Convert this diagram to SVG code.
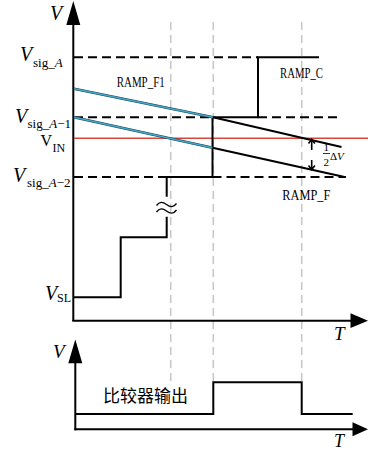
<svg xmlns="http://www.w3.org/2000/svg" width="368" height="452" viewBox="0 0 368 452">
<defs>
<style>
.ax{stroke:#000;stroke-width:2;fill:none}
.sig{stroke:#000;stroke-width:2;fill:none}
.dash{stroke:#000;stroke-width:2;fill:none;stroke-dasharray:9 5}
.grid{stroke:#c8c8c8;stroke-width:1.6;fill:none;stroke-dasharray:8 5}
.blueU{stroke:#1d3f50;stroke-width:2.6;fill:none}
.blue{stroke:#41aacb;stroke-width:1.6;fill:none}
.red{stroke:#d9473b;stroke-width:1.5;fill:none}
.ah{fill:#000}
.it{font-family:"Liberation Serif",serif;font-style:italic}
.rm{font-family:"Liberation Serif",serif}
.lbl{font-family:"Liberation Serif",serif;font-size:14.5px}
.cn{font-family:"Noto Sans CJK SC",sans-serif;font-size:17px}
</style>
</defs>
<g id="gridlines">
<line class="grid" x1="170.7" y1="22" x2="170.7" y2="383"/>
<line class="grid" x1="213.3" y1="22" x2="213.3" y2="382"/>
<line class="grid" x1="301.7" y1="22" x2="301.7" y2="383"/>
</g>
<g id="axes-top">
<line class="ax" x1="73.3" y1="20" x2="73.3" y2="321"/>
<polygon class="ah" points="73.3,1 66.3,25 80.3,25"/>
<line class="ax" x1="72.3" y1="320.7" x2="352" y2="320.7"/>
<polygon class="ah" points="368,320.7 350.5,313.3 350.5,328.1"/>
<text class="it" x="50" y="20" font-size="20">V</text>
<text class="it" x="334" y="340" font-size="19">T</text>
</g>
<g id="levels">
<line class="dash" x1="74" y1="57.3" x2="258" y2="57.3"/>
<line class="dash" x1="74" y1="117.3" x2="212.5" y2="117.3"/>
<line class="dash" x1="258" y1="117.3" x2="342" y2="117.3"/>
<line class="dash" x1="74" y1="177" x2="166.7" y2="177"/>
<line class="dash" x1="212.5" y1="177" x2="346" y2="177"/>
<line class="red" x1="74" y1="138.3" x2="368" y2="138.3"/>
</g>
<g id="ramp-c">
<path class="sig" d="M73.3,297.3 H120.7 V237.3 H166.7 V216.7 M166.7,196.7 V177 H212.5 V117.3 H258 V57.3 H319"/>
<path d="M156.5,205.5 c3,-4 6,-4 10,-1 s7,3 10,-1 M156.5,212 c3,-4 6,-4 10,-1 s7,3 10,-1" stroke="#000" stroke-width="1.3" fill="none"/>
</g>
<g id="ramp-f1">
<line class="blueU" x1="74" y1="88.7" x2="213" y2="117.3"/>
<line class="blue" x1="74" y1="88.7" x2="213" y2="117.3"/>
<line class="blueU" x1="74" y1="117.3" x2="212.5" y2="147.7"/>
<line class="blue" x1="74" y1="117.3" x2="212.5" y2="147.7"/>
</g>
<g id="ramp-f">
<line class="sig" x1="213" y1="117.3" x2="341.5" y2="147"/>
<line class="sig" x1="212.5" y1="147.7" x2="343.5" y2="176.7"/>
</g>
<g id="delta">
<path d="M311.7,150 V139.5 M308.5,143.5 L311.7,139.3 L314.9,143.5 M311.7,160 V169.5 M308.5,165.5 L311.7,169.7 L314.9,165.5" stroke="#000" stroke-width="1.6" fill="none"/>
<text class="rm" x="323.5" y="150.5" font-size="11">1</text>
<line x1="323" y1="153.5" x2="330" y2="153.5" stroke="#000" stroke-width="0.8"/>
<text class="rm" x="323.5" y="166" font-size="11">2</text>
<text class="rm" x="330" y="160" font-size="11">Δ<tspan class="it">V</tspan></text>
</g>
<g id="labels-top">
<text class="it" x="20" y="60.7" font-size="20">V</text>
<text class="rm" x="33" y="66.7" font-size="13">sig_<tspan class="it">A</tspan></text>
<text class="it" x="15" y="123.3" font-size="20">V</text>
<text class="rm" x="27.5" y="128.3" font-size="13">sig_<tspan class="it">A</tspan>−1</text>
<text class="rm" x="40.5" y="146" font-size="16">V</text>
<text class="rm" x="52.5" y="151.5" font-size="12">IN</text>
<text class="it" x="13" y="181.7" font-size="20">V</text>
<text class="rm" x="27" y="186.7" font-size="13">sig_<tspan class="it">A</tspan>−2</text>
<text class="it" x="45" y="300" font-size="20">V</text>
<text class="rm" x="57" y="301.7" font-size="12">SL</text>
<text class="lbl" x="116.7" y="86.7" textLength="48" lengthAdjust="spacingAndGlyphs">RAMP_F1</text>
<text class="lbl" x="280" y="78.3" textLength="43" lengthAdjust="spacingAndGlyphs">RAMP_C</text>
<text class="lbl" x="282.3" y="200" textLength="48" lengthAdjust="spacingAndGlyphs">RAMP_F</text>
</g>
<g id="axes-bottom">
<line class="ax" x1="75.3" y1="360" x2="75.3" y2="430.3"/>
<polygon class="ah" points="75.3,339.5 68.3,363.3 82.3,363.3"/>
<line class="ax" x1="74.3" y1="429.3" x2="354" y2="429.3"/>
<polygon class="ah" points="368,429.3 352.5,422.3 352.5,436.3"/>
<text class="it" x="53" y="358" font-size="19">V</text>
<text class="it" x="334" y="447" font-size="18">T</text>
</g>
<g id="comparator">
<path class="sig" d="M75.3,414 H213.3 V382.3 H301.7 V414 H352.7"/>
<text class="cn" x="103" y="402">比较器输出</text>
</g>
</svg>
